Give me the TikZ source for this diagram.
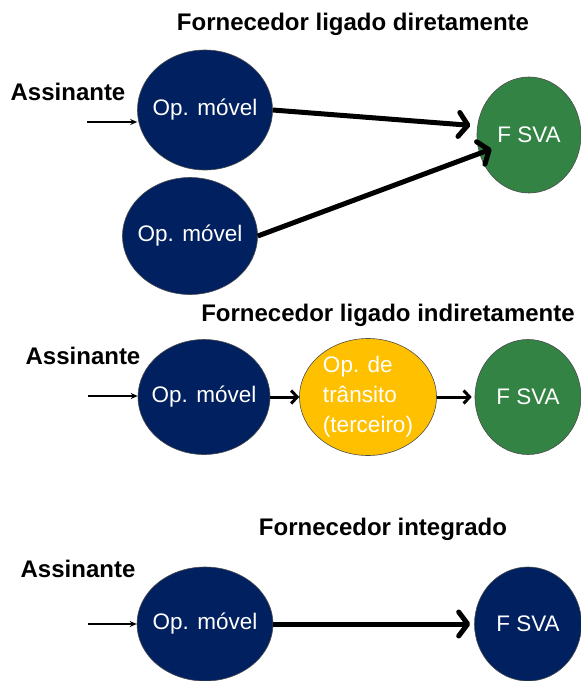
\documentclass[tikz,border=0pt]{standalone}
\usepackage{fontspec}
\setmainfont{Liberation Sans}
\usepackage{xcolor}
\usetikzlibrary{calc, arrows.meta, shapes.geometric}
\definecolor{opnavy}{RGB}{0,32,96}
\definecolor{opgreen}{RGB}{51,132,68}
\definecolor{opyellow}{RGB}{255,192,0}
\tikzset{
	oper/.style={shape=ellipse, draw=black!70, line width=0.6pt, fill=opnavy, text=white, inner sep=-8pt},
	svaop/.style={oper, fill=opgreen},
	titulo/.style={font=\fontsize{24}{28}\selectfont\bfseries},
	grosso/.style={line width=5pt, -{Straight Barb[length=9pt, width=24pt, round]}},
	medio/.style={line width=3pt, -{Straight Barb[length=6pt, width=13pt]}},
	fino/.style={line width=1.3pt, -{Stealth[length=7pt, width=6pt]}}
}

\begin{document}
\begin{tikzpicture}[x=1pt, y=-1pt, font=\fontsize{22.5}{30}\selectfont]
	\useasboundingbox (0,0) rectangle (581,681);
%	fornecedor ligado diretamente
	\node[name=t1, titulo] at (353,24) {Fornecedor ligado diretamente};
	\node[name=as1, titulo] at (68,92) {Assinante};
	\node[name=op1, oper, minimum width=135pt, minimum height=120pt] at (205,110) {Op. móvel};
	\node[name=op2, oper, minimum width=135pt, minimum height=117pt] at (190,236) {Op. móvel};
	\node[name=fsva1, svaop, minimum width=104pt, minimum height=116pt] at (529,135) {F SVA};
	\coordinate (in1) at (87,122);
	\draw[fino] (in1) -- (in1 -| op1.west);
	\draw[grosso, shorten >=7pt] (op1.east) -- (fsva1.170);
	\draw[grosso, shorten >=40pt] (op2.east) -- (fsva1.center);
%	fornecedor ligado indiretamente
	\node[name=t2, titulo] at (388,315) {Fornecedor ligado indiretamente};
	\node[name=as2, titulo] at (83,356) {Assinante};
	\node[name=op3, oper, minimum width=132pt, minimum height=115pt] at (204,397) {Op. móvel};
	\node[name=tran, oper, fill=opyellow, align=left, minimum width=137pt, minimum height=117pt] at (368,397) {Op. de\\trânsito\\(terceiro)};
	\node[name=fsva2, svaop, minimum width=106pt, minimum height=115pt] at (528,397) {F SVA};
	\coordinate (in2) at (88,396);
	\draw[fino] (in2) -- (in2 -| op3.west);
	\draw[medio] (op3.east) -- (tran.west);
	\draw[medio, shorten >=3pt] (tran.east) -- (fsva2.west);
%	fornecedor integrado
	\node[name=t3, titulo] at (383,529) {Fornecedor integrado};
	\node[name=as3, titulo] at (78,569) {Assinante};
	\node[name=op5, oper, minimum width=136pt, minimum height=114pt] at (205,624) {Op. móvel};
	\node[name=fsva3, oper, minimum width=107pt, minimum height=114pt] at (528,624) {F SVA};
	\coordinate (in3) at (88,624);
	\draw[fino] (in3) -- (in3 -| op5.west);
	\draw[grosso, shorten >=4pt] (op5.east) -- (fsva3.west);
\end{tikzpicture}
\end{document}
